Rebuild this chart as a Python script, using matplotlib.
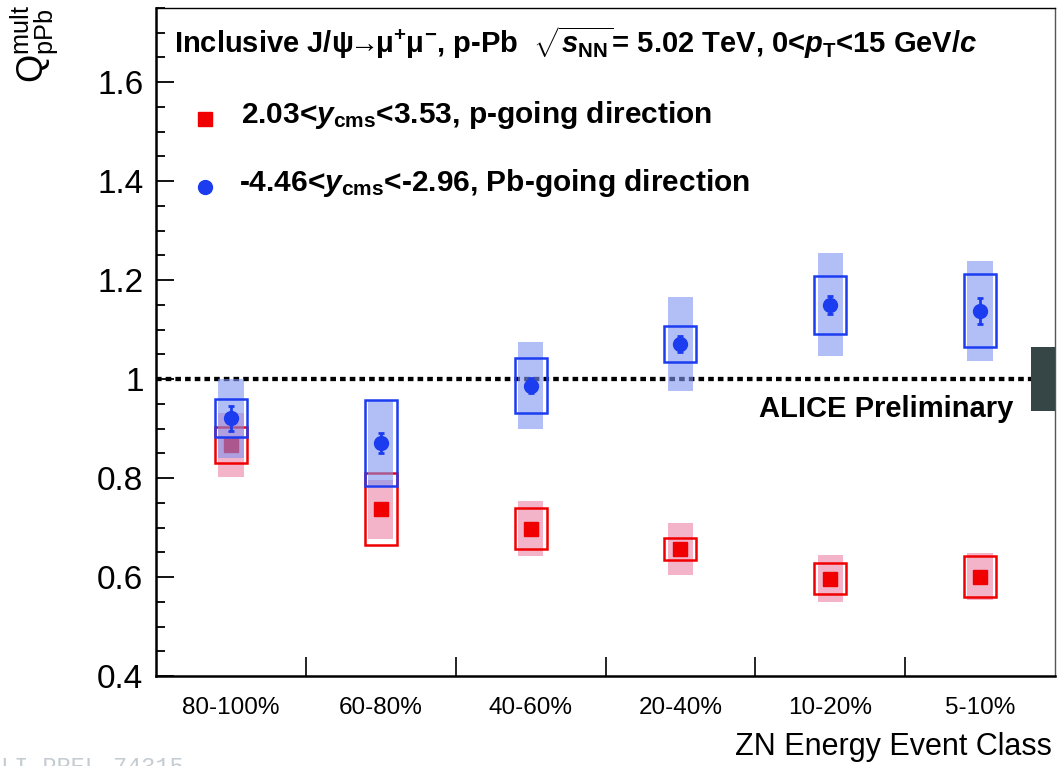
import matplotlib
matplotlib.use("Agg")
import matplotlib.pyplot as plt
from matplotlib.patches import Rectangle
from matplotlib.lines import Line2D
from matplotlib.ticker import FixedLocator, MultipleLocator, FixedFormatter

plt.rcParams['font.family'] = ['Liberation Sans', 'DejaVu Sans']
plt.rcParams['mathtext.fontset'] = 'custom'
plt.rcParams['mathtext.rm'] = 'Liberation Sans'
plt.rcParams['mathtext.it'] = 'Liberation Sans:bold:italic'
plt.rcParams['mathtext.bf'] = 'Liberation Sans:bold'

# ZN energy event classes
classes = ["80-100%", "60-80%", "40-60%", "20-40%", "10-20%", "5-10%"]

# p-going direction, 2.03 < y_cms < 3.53
q_fwd = [0.867, 0.737, 0.698, 0.657, 0.597, 0.601]
q_fwd_stat = [0.010, 0.010, 0.009, 0.009, 0.009, 0.009]
q_fwd_sys_unc = [0.036, 0.073, 0.041, 0.022, 0.031, 0.041]
q_fwd_sys_cor = [0.065, 0.060, 0.055, 0.052, 0.048, 0.048]

# Pb-going direction, -4.46 < y_cms < -2.96
q_bwd = [0.921, 0.871, 0.987, 1.071, 1.150, 1.138]
q_bwd_stat = [0.025, 0.020, 0.016, 0.016, 0.018, 0.026]
q_bwd_sys_unc = [0.039, 0.087, 0.056, 0.036, 0.058, 0.074]
q_bwd_sys_cor = [0.080, 0.085, 0.088, 0.095, 0.104, 0.101]

# global normalisation uncertainty around unity
global_unc = 0.065

W, H = 1058, 766
fig = plt.figure(figsize=(W / 100, H / 100), dpi=100)
L, R, T, B = 156, 1055, 8, 676
ax = fig.add_axes([L / W, 1 - B / H, (R - L) / W, (B - T) / H])


def fpos(x, y):
    return x / W, 1 - y / H


red = '#f00000'
blue = '#1c3cf0'
red_fill = (0.93, 0.55, 0.68, 0.65)
blue_fill = (0.50, 0.58, 0.94, 0.60)

xc = [i + 0.5 for i in range(len(classes))]
hw_unc = 0.107   # uncorrelated systematics: open boxes
hw_cor = 0.085   # correlated systematics: shaded bands


def draw_series(vals, stat, s_unc, s_cor, col, fill, marker, ms, z0):
    for x, v, su, sc in zip(xc, vals, s_unc, s_cor):
        ax.add_patch(Rectangle((x - hw_cor, v - sc), 2 * hw_cor, 2 * sc,
                               facecolor=fill, edgecolor='none', zorder=z0))
        ax.add_patch(Rectangle((x - hw_unc, v - su), 2 * hw_unc, 2 * su,
                               facecolor='none', edgecolor=col, lw=1.8,
                               zorder=z0 + 1))
    ax.errorbar(xc, vals, yerr=stat, fmt=marker, color=col, ms=ms,
                elinewidth=2, capsize=2.5, capthick=2, zorder=z0 + 2)


draw_series(q_fwd, q_fwd_stat, q_fwd_sys_unc, q_fwd_sys_cor, red, red_fill, 's', 9.5, 2)
draw_series(q_bwd, q_bwd_stat, q_bwd_sys_unc, q_bwd_sys_cor, blue, blue_fill, 'o', 10, 5)

# unity reference and global uncertainty box
ax.axhline(1.0, color='black', lw=3.1, ls=(0, (1.3, 0.95)), zorder=1)
ax.add_patch(Rectangle((6 - 0.16, 1 - global_unc), 0.16, 2 * global_unc,
                       facecolor='#364646', edgecolor='none', zorder=9))

ax.set_xlim(0, 6)
ax.set_ylim(0.4, 1.75)

# axes styling
for side in ('left', 'bottom'):
    ax.spines[side].set_linewidth(1.8)
for side in ('top', 'right'):
    ax.spines[side].set_linewidth(1.0)
ax.spines['right'].set_color('#555555')

ax.yaxis.set_major_locator(MultipleLocator(0.2))
ax.yaxis.set_minor_locator(MultipleLocator(0.05))
ax.yaxis.set_major_formatter(plt.FuncFormatter(lambda v, p: f"{v:g}"))
ax.tick_params(axis='y', which='major', direction='in', length=13, width=1.3,
               labelsize=24, pad=9)
ax.tick_params(axis='y', which='minor', direction='in', length=6.5, width=1.3)

ax.xaxis.set_major_locator(FixedLocator([1, 2, 3, 4, 5]))
ax.xaxis.set_major_formatter(FixedFormatter([]))
ax.xaxis.set_minor_locator(FixedLocator(xc))
ax.xaxis.set_minor_formatter(FixedFormatter(classes))
ax.tick_params(axis='x', which='major', direction='in', length=14, width=1.2)
ax.tick_params(axis='x', which='minor', length=0, labelsize=17.5, pad=15)

# header and legend
fig.text(*fpos(174, 53),
         r"Inclusive J/ψ$\!\!\rightarrow\!\!$μ$^{\mathregular{+}}$μ$^{\mathregular{-}}$, p-Pb  "
         r"$\sqrt{s_{\mathregular{NN}}}$= 5.02 TeV, 0<$p_{\mathregular{T}}$<15 GeV/$c$",
         fontsize=21, fontweight='bold', ha='left', va='baseline')

ax_tr = fig.transFigure
fig.add_artist(Line2D([205 / W], [1 - 119 / H], marker='s', color=red, ms=10,
                      transform=ax_tr))
fig.add_artist(Line2D([205 / W], [1 - 187 / H], marker='o', color=blue, ms=10,
                      transform=ax_tr))
fig.text(*fpos(241, 123), r"2.03<$y_{\mathregular{cms}}$<3.53, p-going direction",
         fontsize=21.5, fontweight='bold', ha='left', va='baseline')
fig.text(*fpos(239, 191), r"-4.46<$y_{\mathregular{cms}}$<-2.96, Pb-going direction",
         fontsize=21.5, fontweight='bold', ha='left', va='baseline')

fig.text(*fpos(1013, 417), "ALICE Preliminary", fontsize=21, fontweight='bold',
         ha='right', va='baseline')

fig.text(*fpos(1052, 755), "ZN Energy Event Class", fontsize=22,
         ha='right', va='baseline')

fig.text(*fpos(43, 5), r"Q$^{\mathregular{mult}}_{\mathregular{pPb}}$", fontsize=26,
         rotation=90, rotation_mode='anchor', ha='right', va='baseline')

fig.text(*fpos(0, 756), "LI-PREL-74315", fontsize=17, family='Liberation Mono',
         color='#c4ccd2', ha='left', va='top')

fig.savefig('out.png', dpi=100)
